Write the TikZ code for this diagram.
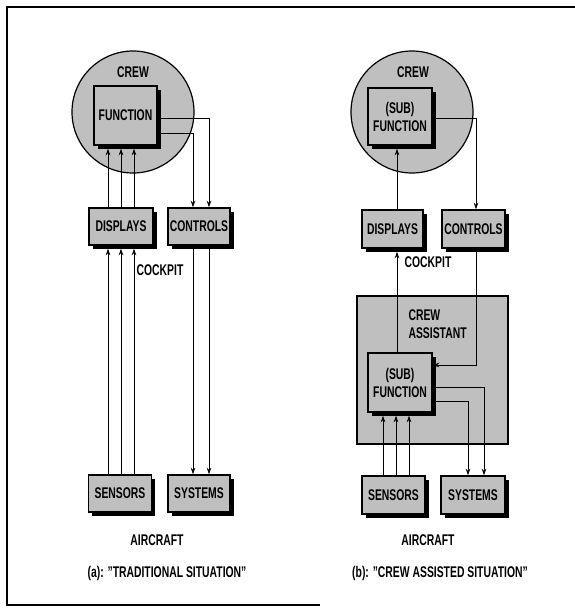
\documentclass[tikz,border=0pt]{standalone}
\usepackage{fontspec}
\setmainfont{Liberation Sans}[FakeStretch=0.67]
\usetikzlibrary{shadows,arrows.meta}

\begin{document}
\begin{tikzpicture}[x=1pt,y=-1pt,
  font=\fontsize{15.5}{18}\selectfont\bfseries,
  >={Stealth[length=6.5pt,width=4.5pt]},
  dotfill/.style={fill=black!25},
  unit/.style={draw,line width=1.4pt,dotfill,inner sep=0pt,align=center,
    drop shadow={shadow xshift=3.5pt,shadow yshift=-3.5pt,fill=black,opacity=1}},
  crewzone/.style={circle,draw,line width=1.2pt,dotfill,minimum size=122pt,inner sep=0pt},
  link/.style={->,line width=1pt}]
\useasboundingbox (0,0) rectangle (575,608);
\draw[line width=1.5pt] (575,7) -- (7,7) -- (7,605) -- (320,605);

% (a) traditional situation
\node[crewzone] (crewA) at (133,112) {};
\node (crewtxtA) at (133,72) {CREW};
\node[unit,minimum width=63pt,minimum height=59pt] (funA) at (125.5,115.5) {FUNCTION};
\node[unit,minimum width=64pt,minimum height=37pt] (dispA) at (121,226.5) {DISPLAYS};
\node[unit,minimum width=62pt,minimum height=37pt] (ctlA) at (199,226.5) {CONTROLS};
\node[unit,minimum width=63pt,minimum height=37pt] (senA) at (120,493.5) {SENSORS};
\node[unit,minimum width=62pt,minimum height=37pt] (sysA) at (199,493.5) {SYSTEMS};
\node (cockA) at (160,270) {COCKPIT};
\node (acA) at (157,540) {AIRCRAFT};
\node (capA) at (167,573) {(a): "TRADITIONAL SITUATION"};

\foreach \dx in {-13,0,13}{
  \coordinate (d) at ([xshift=\dx pt]dispA.north);
  \coordinate (s) at ([xshift=\dx pt]dispA.south);
  \draw[link,shorten >=3pt] (d) -- (d |- funA.south);
  \draw[link,shorten >=3pt] (s |- senA.north) -- (s);
}
\draw[link] ([yshift=-2.5pt]funA.east) -| ([xshift=10pt]ctlA.north);
\draw[link] ([yshift=-17.5pt]funA.east) -| ([xshift=-6pt]ctlA.north);
\foreach \dx in {-6,10}{
  \coordinate (c) at ([xshift=\dx pt]ctlA.south);
  \draw[link] (c) -- (c |- sysA.north);
}

% (b) crew assisted situation
\node[crewzone] (crewB) at (412,112) {};
\node (crewtxtB) at (413,72) {CREW};
\node[unit,minimum width=64pt,minimum height=57pt] (funB) at (400,116.5) {(SUB)\\FUNCTION};
\node[unit,minimum width=61pt,minimum height=38pt] (dispB) at (392.5,229) {DISPLAYS};
\node[unit,minimum width=63pt,minimum height=38pt] (ctlB) at (473.5,229) {CONTROLS};
\node (cockB) at (428,262) {COCKPIT};
\node[draw,line width=1.2pt,dotfill,minimum width=151pt,minimum height=148pt] (asstB) at (432.5,370) {};
\node[align=left,anchor=west] (asstxtB) at (405,324) {CREW\\ASSISTANT};
\node[unit,minimum width=64pt,minimum height=59pt] (subB) at (400,382.5) {(SUB)\\FUNCTION};
\node[unit,minimum width=63pt,minimum height=38pt] (senB) at (393.5,495) {SENSORS};
\node[unit,minimum width=64pt,minimum height=38pt] (sysB) at (473,495) {SYSTEMS};
\node (acB) at (428,540) {AIRCRAFT};
\node (capB) at (440,573) {(b): "CREW ASSISTED SITUATION"};

\coordinate (u) at ([xshift=-3pt]subB.north);
\draw[link,shorten >=3pt] (u |- dispB.north) -- (u |- funB.south);
\draw[link,shorten >=3pt] (u) -- (u |- dispB.south);
\coordinate (v) at ([xshift=2.5pt]ctlB.north);
\draw[link] ([yshift=-1.5pt]funB.east) -| (v);
\draw[link] (v |- ctlB.south) |- ([yshift=17.5pt]subB.east);
\draw[link] ([yshift=-4.5pt]subB.east) -| ([xshift=11pt]sysB.north);
\draw[link] ([yshift=-18.5pt]subB.east) -| ([xshift=-5pt]sysB.north);
\foreach \dx in {-17,-4,9}{
  \coordinate (w) at ([xshift=\dx pt]subB.south);
  \draw[link,shorten >=3pt] (w |- senB.north) -- (w);
}
\end{tikzpicture}
\end{document}
